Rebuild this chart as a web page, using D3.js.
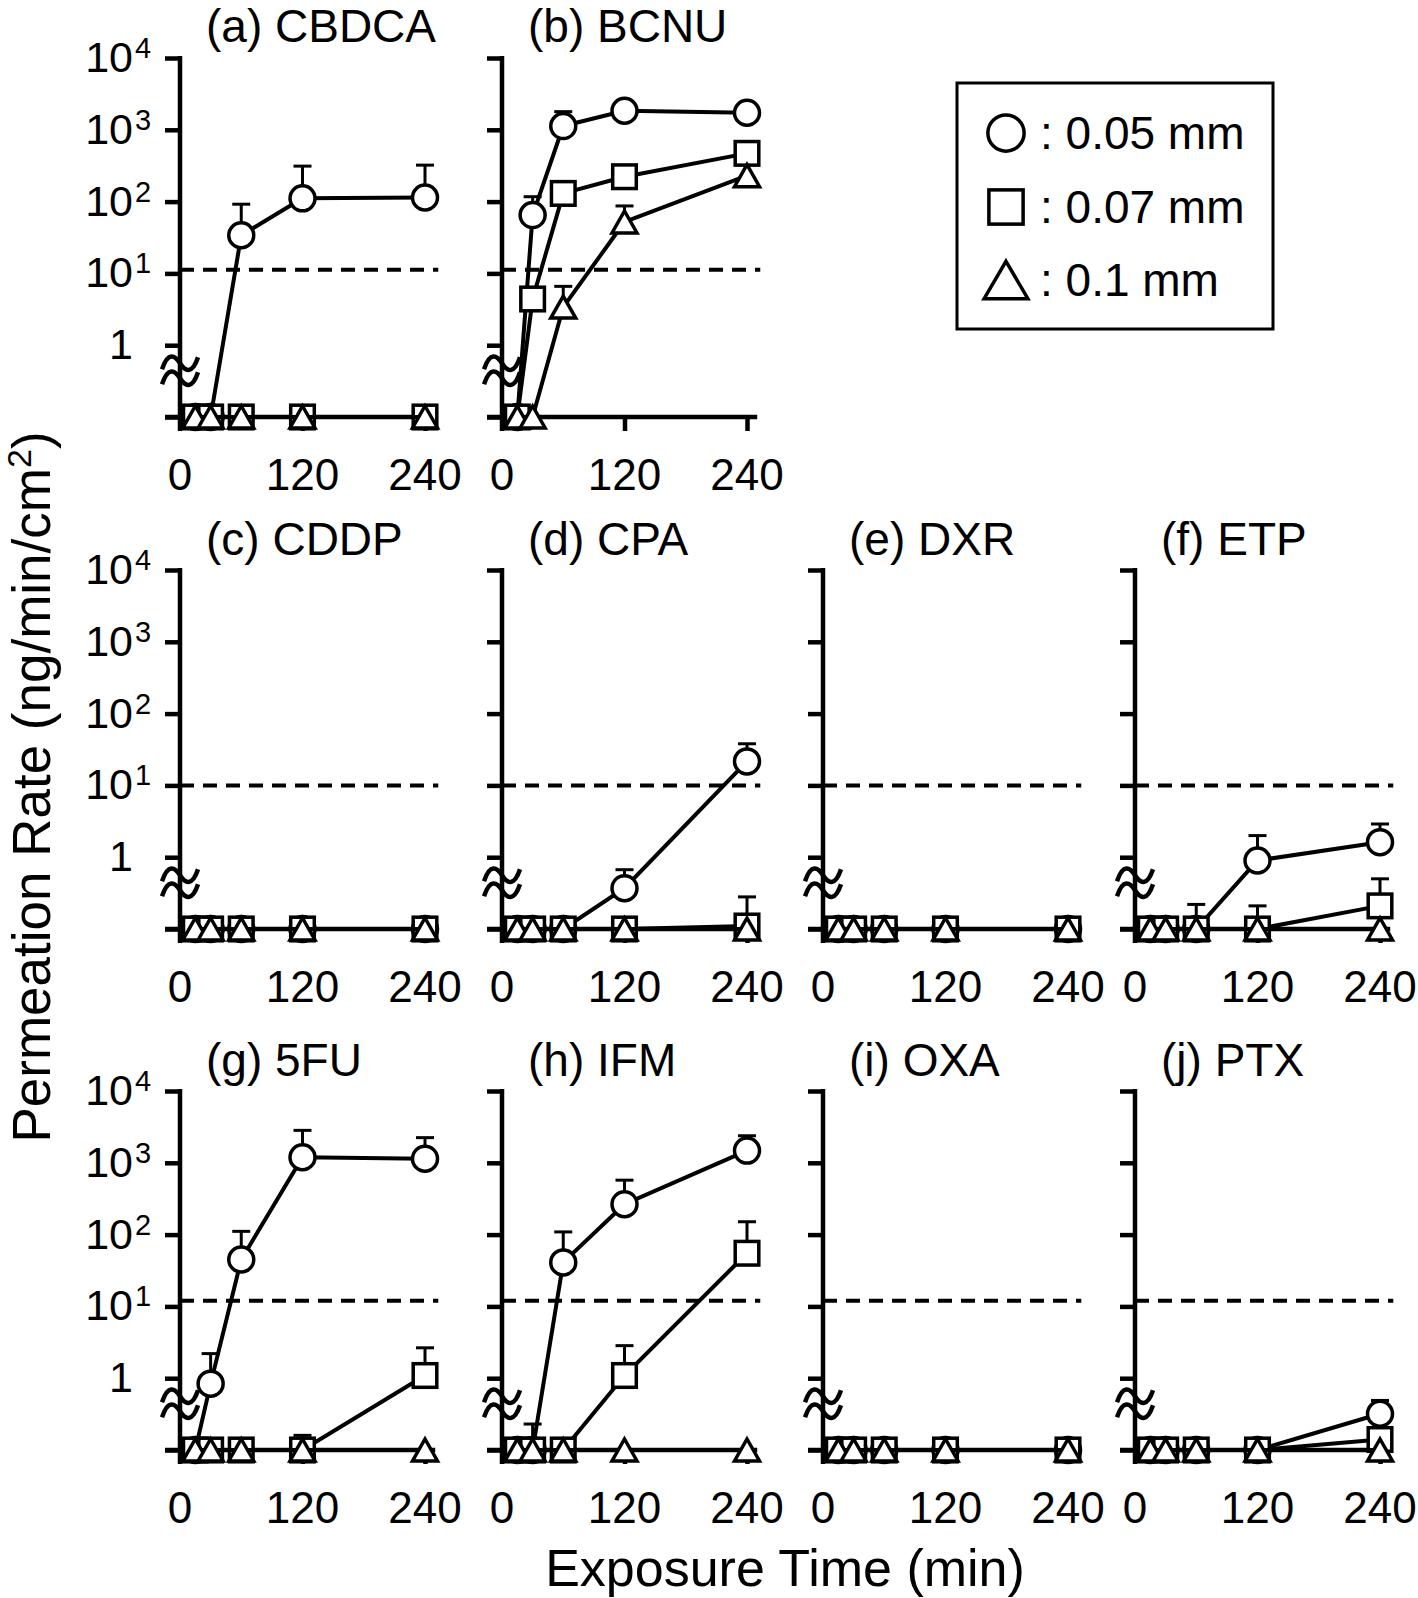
<!DOCTYPE html>
<html lang="en">
<head>
  <meta charset="UTF-8">
  <title>Permeation rate vs exposure time</title>
  <script src="https://d3js.org/d3.v7.min.js"></script>
  <style>
    html, body { margin: 0; background: #fff; }
    svg { display: block; font-family: "Liberation Sans", Arial, sans-serif; }
  </style>
</head>
<body>
<script>
  // ---- data ----
  const times = [15, 30, 60, 120, 240];
  const panelTitles = ["(a) CBDCA", "(b) BCNU", "(c) CDDP", "(d) CPA", "(e) DXR",
                       "(f) ETP", "(g) 5FU", "(h) IFM", "(i) OXA", "(j) PTX"];
  const limitLine = [11.2, 11.2, 10, 10, 10, 10, 12, 12, 12, 12];
  const seriesLabels = [": 0.05 mm", ": 0.07 mm", ": 0.1 mm"];
  const xTicks = [0, 120, 240];
  const yTicks = [1, 10, 100, 1000, 10000];

  // mean permeation rate (0 = not detected), one row per drug
  const mean005 = [
    [0, 0, 34, 111, 114],
    [0, 65, 1128, 1843, 1727],
    [0, 0, 0, 0, 0],
    [0, 0, 0, 0.37, 21.6],
    [0, 0, 0, 0, 0],
    [0, 0, 0, 0.9, 1.62],
    [0, 0.84, 45, 1195, 1140],
    [0, 0, 41, 265, 1480],
    [0, 0, 0, 0, 0],
    [0, 0, 0, 0, 0.32]
  ];
  const upper005 = [
    [null, null, 92, 312, 322],
    [null, 117, 1790, null, null],
    [null, null, null, null, null],
    [null, null, null, 0.67, 38],
    [null, null, null, null, null],
    [null, null, 0.22, 2.0, 2.9],
    [null, 2.2, 111, 2830, 2240],
    [null, 0.23, 109, 573, 2380],
    [null, null, null, null, null],
    [null, null, null, null, 0.49]
  ];
  const mean007 = [
    [0, 0, 0, 0, 0],
    [0, 4.4, 130, 222, 470],
    [0, 0, 0, 0, 0],
    [0, 0, 0, 0, 0.11],
    [0, 0, 0, 0, 0],
    [0, 0, 0, 0, 0.21],
    [0, 0, 0, 0, 1.09],
    [0, 0, 0, 1.09, 55],
    [0, 0, 0, 0, 0],
    [0, 0, 0, 0, 0.14]
  ];
  const upper007 = [
    [null, null, null, null, null],
    [null, null, null, null, null],
    [null, null, null, null, null],
    [null, null, null, null, 0.28],
    [null, null, null, null, null],
    [null, null, null, 0.21, 0.5],
    [null, null, null, 0.16, 2.65],
    [null, null, null, 2.84, 151],
    [null, null, null, null, null],
    [null, null, null, null, null]
  ];
  const mean010 = [
    [0, 0, 0, 0, 0],
    [0, 0, 3.4, 52, 230],
    [0, 0, 0, 0, 0],
    [0, 0, 0, 0, 0],
    [0, 0, 0, 0, 0],
    [0, 0, 0, 0, 0],
    [0, 0, 0, 0, 0],
    [0, 0, 0, 0, 0],
    [0, 0, 0, 0, 0],
    [0, 0, 0, 0, 0]
  ];
  const upper010 = [
    [null, null, null, null, null],
    [null, null, 6.6, 87, null],
    [null, null, null, null, null],
    [null, null, null, null, null],
    [null, null, null, null, null],
    [null, null, null, null, null],
    [null, null, null, null, null],
    [null, null, null, null, null],
    [null, null, null, null, null],
    [null, null, null, null, null]
  ];

  // ---- layout ----
  const W = 1418, H = 1598;
  const grid = [[0, 0], [0, 1], [1, 0], [1, 1], [1, 2], [1, 3], [2, 0], [2, 1], [2, 2], [2, 3]];
  const colX = [180, 502, 823, 1135];
  const rowBase = [417, 929, 1450];
  const titleY = [42, 555, 1076];
  const decade = 71.8;
  const xSpan = 245;
  const shapes = ["circle", "square", "triangle"];

  const svg = d3.select("body").append("svg")
    .attr("width", W).attr("height", H)
    .attr("viewBox", `0 0 ${W} ${H}`);

  svg.append("rect").attr("width", W).attr("height", H).attr("fill", "#fff");

  function marker(g, shape, cx, cy, big) {
    const k = big ? 1.45 : 1;
    let m;
    if (shape === "circle") {
      m = g.append("circle").attr("cx", cx).attr("cy", cy).attr("r", 12.5 * k);
    } else if (shape === "square") {
      const h = 11.8 * k;
      m = g.append("rect").attr("x", cx - h).attr("y", cy - h)
        .attr("width", 2 * h).attr("height", 2 * h);
    } else {
      const hw = 12.5 * (big ? 1.75 : 1), hh = 11 * (big ? 1.7 : 1);
      m = g.append("path")
        .attr("d", `M${cx},${cy - hh}L${cx + hw},${cy + hh}L${cx - hw},${cy + hh}Z`);
    }
    m.attr("fill", "#fff").attr("stroke", "#000")
      .attr("stroke-width", 3.5)
      .attr("stroke-linejoin", "miter");
  }

  const seriesMeans = [mean005, mean007, mean010];
  const seriesUpper = [upper005, upper007, upper010];

  panelTitles.forEach((title, i) => {
    const [r, c] = grid[i];
    const x0 = colX[c], base = rowBase[r];
    const x = d3.scaleLinear().domain([0, 240]).range([x0, x0 + xSpan]);
    const y = d3.scaleLog().domain([0.1, 1e4]).range([base, base - 5 * decade]);
    const yv = v => y(Math.max(v, 0.1));
    const g = svg.append("g");

    // panel title
    g.append("text")
      .attr("x", x0 + 26).attr("y", titleY[r])
      .attr("font-size", 46)
      .text(title);

    // threshold line
    g.append("line")
      .attr("x1", x(0)).attr("x2", x(253))
      .attr("y1", y(limitLine[i])).attr("y2", y(limitLine[i]))
      .attr("stroke", "#000").attr("stroke-width", 4)
      .attr("stroke-dasharray", "14 9");

    // y axis (ticks from d3 axis)
    const yAxis = g.append("g")
      .attr("transform", `translate(${x0},0)`)
      .call(d3.axisLeft(y).tickValues([0.1].concat(yTicks)).tickSize(15).tickSizeOuter(0).tickFormat(""));
    yAxis.select(".domain").remove();
    yAxis.selectAll(".tick line").attr("stroke", "#000").attr("stroke-width", 4.5);

    // x axis
    const xAxis = g.append("g")
      .attr("transform", `translate(0,${base})`)
      .call(d3.axisBottom(x).tickValues([120, 240]).tickSize(14).tickSizeOuter(0).tickFormat(""));
    xAxis.select(".domain").remove();
    xAxis.selectAll(".tick line").attr("stroke", "#000").attr("stroke-width", 4.5);
    g.append("line")
      .attr("x1", x(0) - 15).attr("x2", x(250))
      .attr("y1", base).attr("y2", base)
      .attr("stroke", "#000").attr("stroke-width", 4.5);
    g.append("line")
      .attr("x1", x(0)).attr("x2", x(0))
      .attr("y1", y(1e4) - 2).attr("y2", base + 14)
      .attr("stroke", "#000").attr("stroke-width", 4.5);

    // axis break mark
    const by = y(1);
    [18, 33].forEach(off => {
      const yy = by + off, xx = x0;
      g.append("path")
        .attr("d", `M${xx - 18},${yy + 6}C${xx - 12},${yy - 12} ${xx - 5},${yy - 8} ${xx},${yy}` +
                   `C${xx + 5},${yy + 8} ${xx + 12},${yy + 12} ${xx + 18},${yy - 6}`)
        .attr("fill", "none").attr("stroke", "#000").attr("stroke-width", 4.5);
    });

    // x tick labels
    xTicks.forEach(t => {
      g.append("text")
        .attr("x", x(t)).attr("y", base + 73)
        .attr("text-anchor", "middle").attr("font-size", 44)
        .text(t);
    });

    // y tick labels on the first column only
    if (c === 0) {
      yTicks.forEach(v => {
        const ty = y(v) + 14;
        if (v === 1) {
          g.append("text").attr("x", x0 - 47).attr("y", ty)
            .attr("text-anchor", "end").attr("font-size", 43).text("1");
        } else {
          g.append("text").attr("x", x0 - 47).attr("y", ty)
            .attr("text-anchor", "end").attr("font-size", 43).text("10");
          g.append("text").attr("x", x0 - 45).attr("y", ty - 14)
            .attr("font-size", 29).text(Math.round(Math.log10(v)));
        }
      });
    }

    // series
    shapes.forEach((shape, s) => {
      const means = seriesMeans[s][i];
      const ups = seriesUpper[s][i];
      const line = d3.line().x((d, k) => x(times[k])).y(d => yv(d));
      g.append("path").datum(means)
        .attr("d", line)
        .attr("fill", "none").attr("stroke", "#000").attr("stroke-width", 4);
      means.forEach((v, k) => {
        const u = ups[k];
        if (u === null) return;
        const cx = x(times[k]);
        g.append("line").attr("x1", cx).attr("x2", cx)
          .attr("y1", yv(v)).attr("y2", y(u))
          .attr("stroke", "#000").attr("stroke-width", 3);
        g.append("line").attr("x1", cx - 9).attr("x2", cx + 9)
          .attr("y1", y(u)).attr("y2", y(u))
          .attr("stroke", "#000").attr("stroke-width", 3);
      });
      means.forEach((v, k) => marker(g, shape, x(times[k]), yv(v), false));
    });
  });

  // y axis title
  const yTitle = svg.append("text")
    .attr("transform", "translate(50,787) rotate(-90)")
    .attr("text-anchor", "middle").attr("font-size", 53);
  yTitle.append("tspan").text("Permeation Rate (ng/min/cm");
  yTitle.append("tspan").attr("font-size", 34).attr("dy", -19).text("2");
  yTitle.append("tspan").attr("dy", 19).text(")");

  // x axis title
  svg.append("text")
    .attr("x", 785).attr("y", 1586)
    .attr("text-anchor", "middle").attr("font-size", 52)
    .text("Exposure Time (min)");

  // legend
  const lg = svg.append("g");
  lg.append("rect")
    .attr("x", 957).attr("y", 83).attr("width", 316).attr("height", 246)
    .attr("fill", "#fff").attr("stroke", "#000").attr("stroke-width", 3);
  const legendY = [133, 207, 280];
  seriesLabels.forEach((lab, s) => {
    marker(lg, shapes[s], 1006, legendY[s], true);
    lg.append("text")
      .attr("x", 1040).attr("y", legendY[s] + 16)
      .attr("font-size", 46)
      .text(lab);
  });
</script>
</body>
</html>
